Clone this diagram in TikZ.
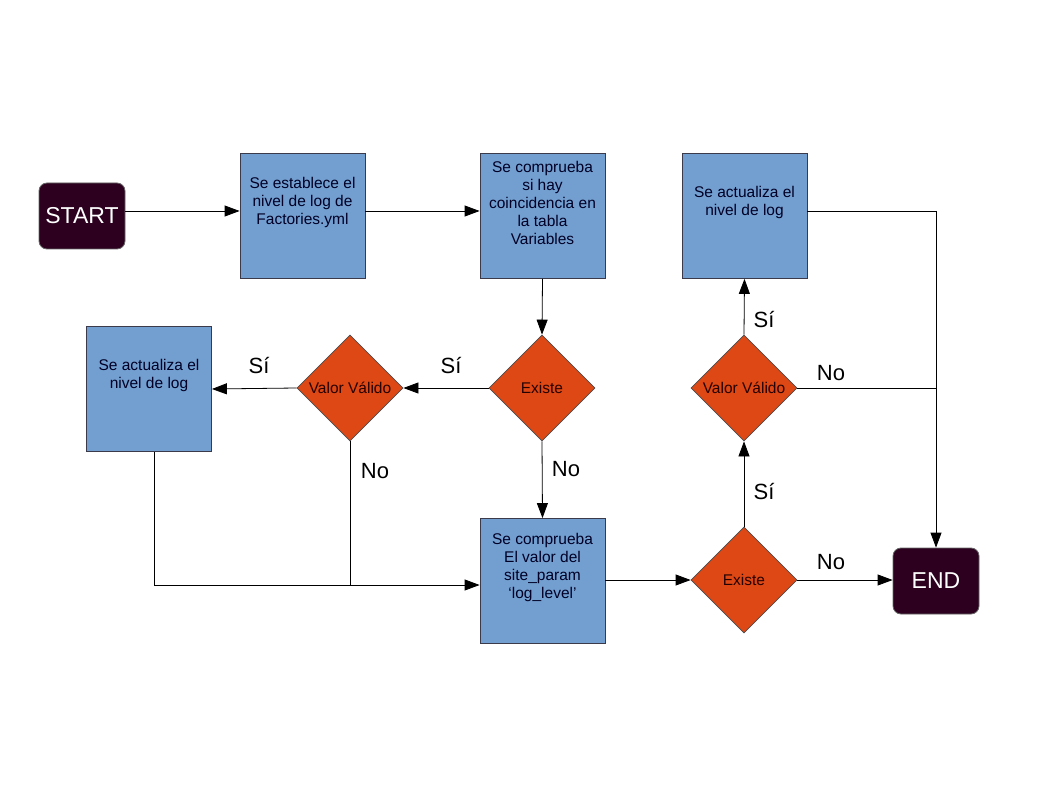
\documentclass[tikz,border=0pt]{standalone}
\usepackage{fontspec}
\setmainfont{Liberation Sans}
\usetikzlibrary{shapes.geometric,arrows.meta,calc}
\definecolor{boxblue}{HTML}{729FCF}
\definecolor{ubuorange}{HTML}{DD4814}
\definecolor{aubergine}{HTML}{2C001E}
\definecolor{edgegray}{HTML}{3A3A4A}
\tikzset{
  box/.style={draw=edgegray, line width=0.8pt, fill=boxblue, minimum width=125pt, minimum height=125pt, inner sep=0pt},
  btext/.style={align=center, font=\fontsize{15.5}{18}\selectfont, text=black!85!blue, inner sep=0pt},
  dec/.style={draw=black!70, line width=0.8pt, fill=ubuorange, diamond, aspect=1, minimum size=106pt, inner sep=0pt, font=\fontsize{15.5}{18}\selectfont, text=black!85!red},
  term/.style={draw=black!60, line width=0.8pt, fill=aubergine, rounded corners=8pt, minimum width=86pt, minimum height=66pt, inner sep=0pt, text=white, font=\fontsize{23}{26}\selectfont},
  lab/.style={font=\fontsize{22}{26}\selectfont, inner sep=0pt},
  arr/.style={line width=0.8pt, -{Triangle[length=15pt,width=11pt]}},
  ln/.style={line width=0.8pt}
}
\begin{document}
\begin{tikzpicture}[x=1pt,y=-1pt]
\useasboundingbox (0,0) rectangle (1058,794);
% terminals
\node[term] (start) at (82,216) {START};
\node[term] (end) at (936,581) {END};
% boxes
\node[box] (b1) at (302.5,216) {};
\node[btext] (b1t) at ([yshift=13.5pt]b1.center) {Se establece el\\nivel de log de\\Factories.yml};
\node[box] (b2) at (542.5,216) {};
\node[btext] (b2t) at ([yshift=13.5pt]b2.center) {Se comprueba\\si hay\\coincidencia en\\la tabla\\Variables};
\node[box] (b3) at (744.5,216) {};
\node[btext] (b3t) at ([yshift=13.5pt]b3.center) {Se actualiza el\\nivel de log};
\node[box] (bl) at (149,389) {};
\node[btext] (blt) at ([yshift=13.5pt]bl.center) {Se actualiza el\\nivel de log};
\node[box] (bb) at (542.5,581) {};
\node[btext] (bbt) at ([yshift=13.5pt]bb.center) {Se comprueba\\El valor del\\site\_param\\‘log\_level’};
% decisions
\node[dec] (ex1) at (542,388) {Existe};
\node[dec] (vv1) at (350,388) {Valor Válido};
\node[dec] (vv2) at (744,388) {Valor Válido};
\node[dec] (ex2) at (744,580) {Existe};
% coordinates
\coordinate (jl) at (154,585);
\coordinate (jv) at (350,585);
\coordinate (tr) at (936,211);
\coordinate (mr) at (936,388);
% connectors
\draw[arr] ([yshift=5pt]start.east) -- ([yshift=5pt]b1.west);
\draw[arr] ([yshift=5pt]b1.east) -- ([yshift=5pt]b2.west);
\draw[arr] (b2.south) -- (ex1.north);
\draw[arr] (ex1.west) -- (vv1.east);
\draw[arr] (vv1.west) -- (bl.east);
\draw[ln] (vv1.south) -- (jv);
\draw[ln] (bl.south -| jl) -- (jl) -- (jv);
\draw[arr] (jv) -- (bb.west |- jv);
\draw[arr] (ex1.south) -- (bb.north);
\draw[arr] (bb.east |- ex2.west) -- (ex2.west);
\draw[arr] (ex2.east) -- (end.west |- ex2.east);
\draw[arr] (ex2.north) -- (vv2.south);
\draw[arr] (vv2.north) -- (b3.south);
\draw[ln] (vv2.east) -- (mr);
\draw[ln] (b3.east |- tr) -- (tr);
\draw[arr] (tr) -- (end.north);
% labels
\node[lab] (l1) at (451,366) {Sí};
\node[lab] (l2) at (259,366) {Sí};
\node[lab] (l3) at (375,471) {No};
\node[lab] (l4) at (566,469) {No};
\node[lab] (l5) at (764,320) {Sí};
\node[lab] (l6) at (764,492) {Sí};
\node[lab] (l7) at (831,373) {No};
\node[lab] (l8) at (831,562) {No};
\end{tikzpicture}
\end{document}
